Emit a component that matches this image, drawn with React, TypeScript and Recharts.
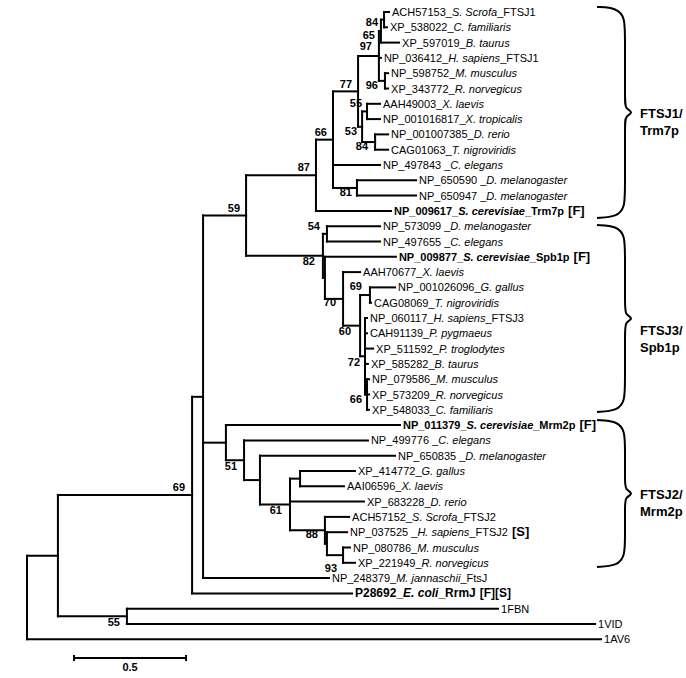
import React from 'react';
import { ComposedChart, XAxis, YAxis, ReferenceLine, Scatter } from 'recharts';

// ---------- DATA ----------
// leaves, top to bottom (row index = position in these arrays)
const leafAccessions = [
  'ACH57153_', 'XP_538022_', 'XP_597019_', 'NP_036412_', 'NP_598752_', 'XP_343772_', 'AAH49003_',
  'NP_001016817_', 'NP_001007385_', 'CAG01063_', 'NP_497843 _', 'NP_650590 _', 'NP_650947 _', 'NP_009617_',
  'NP_573099 _', 'NP_497655 _', 'NP_009877_', 'AAH70677_', 'NP_001026096_', 'CAG08069_', 'NP_060117_',
  'CAH91139_', 'XP_511592_', 'XP_585282_', 'NP_079586_', 'XP_573209_', 'XP_548033_', 'NP_011379_',
  'NP_499776 _', 'NP_650835 _', 'XP_414772_', 'AAI06596_', 'XP_683228_', 'ACH57152_', 'NP_037525 _',
  'NP_080786_', 'XP_221949_', 'NP_248379_', 'P28692_', '1FBN', '1VID', '1AV6',
];
const leafSpecies = [
  'S. Scrofa', 'C. familiaris', 'B. taurus', 'H. sapiens', 'M. musculus', 'R. norvegicus', 'X. laevis',
  'X. tropicalis', 'D. rerio', 'T. nigroviridis', 'C. elegans', 'D. melanogaster', 'D. melanogaster', 'S. cerevisiae',
  'D. melanogaster', 'C. elegans', 'S. cerevisiae', 'X. laevis', 'G. gallus', 'T. nigroviridis', 'H. sapiens',
  'P. pygmaeus', 'P. troglodytes', 'B. taurus', 'M. musculus', 'R. norvegicus', 'C. familiaris', 'S. cerevisiae',
  'C. elegans', 'D. melanogaster', 'G. gallus', 'X. laevis', 'D. rerio', 'S. Scrofa', 'H. sapiens',
  'M. musculus', 'R. norvegicus', 'M. jannaschii', 'E. coli', '', '', '',
];
const leafSuffixes = [
  '_FTSJ1', '', '', '_FTSJ1', '', '', '', '', '', '', '', '', '', '_Trm7p',
  '', '', '_Spb1p', '', '', '', '_FTSJ3', '', '', '', '', '', '', '_Mrm2p',
  '', '', '', '', '', '_FTSJ2', '_FTSJ2', '', '', '_FtsJ', '_RrmJ', '', '', '',
];
const leafTags = [
  '', '', '', '', '', '', '', '', '', '', '', '', '', '[F]',
  '', '', '[F]', '', '', '', '', '', '', '', '', '', '', '[F]',
  '', '', '', '', '', '', '[S]', '', '', '', '[F][S]', '', '', '',
];
const boldLeaves = [13, 16, 27, 38];
const largeLeaves = [38];
// distance of each leaf tip from the root
const leafDistances = [
  1.616, 1.607, 1.661, 1.580, 1.612, 1.612, 1.576, 1.576, 1.612, 1.612, 1.576, 1.737, 1.737, 1.625,
  1.576, 1.576, 1.647, 1.487, 1.643, 1.536, 1.518, 1.518, 1.545, 1.522, 1.527, 1.527, 1.527, 1.665,
  1.522, 1.643, 1.464, 1.415, 1.504, 1.438, 1.429, 1.442, 1.464, 1.348, 1.451, 2.103, 2.536, 2.563,
];
const leafParents = [
  'n84', 'n84', 'n65', 'n97', 'n96', 'n96', 'n55', 'n55', 'n84b', 'n84b', 'n66', 'n81', 'n81', 'n87',
  'n54', 'n54', 'X', 'n70', 'n69b', 'n69b', 'n72', 'n72', 'n72', 'n72', 'n66b', 'n66b', 'n66b', 'M',
  'n51', 'n61pre', 'Z', 'Z', 'n61', 'n88', 'W', 'n93', 'n93', 'B', 'n69', 'n55b', 'n55b', 'root',
];

// internal nodes
const nodeNames = [
  'root', 'A', 'n55b', 'n69', 'B', 'n59', 'n87', 'n66', 'n77', 'n97', 'n65', 'n84', 'n96', 'n53', 'n55',
  'n84b', 'n81', 'n82', 'n54', 'X', 'n70', 'n60', 'n69b', 'n72', 'n66b', 'M', 'n51', 'n61pre', 'n61', 'Z',
  'n88', 'W', 'n93',
];
const nodeParents = [
  null, 'root', 'A', 'A', 'n69', 'B', 'n59', 'n87', 'n66', 'n77', 'n97', 'n65', 'n97', 'n77', 'n53',
  'n53', 'n66', 'n59', 'n82', 'n82', 'X', 'n70', 'n60', 'n60', 'n72', 'B', 'M', 'n51', 'n61pre', 'n61',
  'n61', 'n88', 'W',
];
const nodeDistances = [
  0, 0.138, 0.446, 0.737, 0.786, 0.978, 1.290, 1.366, 1.478, 1.571, 1.580, 1.594, 1.598, 1.496, 1.518,
  1.554, 1.473, 1.321, 1.339, 1.330, 1.411, 1.487, 1.531, 1.509, 1.518, 0.888, 0.969, 1.040, 1.174, 1.219,
  1.330, 1.339, 1.411,
];
const nodeSupport = [
  null, null, 55, 69, null, 59, 87, 66, 77, 97, 65, 84, 96, 53, 55,
  84, 81, 82, 54, null, 70, 60, 69, 72, 66, null, 51, null, 61, null,
  88, null, 93,
];

// clades
const cladeLines = [['FTSJ1/', 'Trm7p'], ['FTSJ3/', 'Spb1p'], ['FTSJ2/', 'Mrm2p']];
const cladeTopRows = [-0.33, 13.92, 26.67];
const cladeBottomRows = [13.46, 26.14, 36.27];
const cladeLabelRows = [6.6, 20.8, 31.5];

// scale bar
const scaleBarValue = 0.5;
const scaleBarStart = 0.21;

// ---------- LAYOUT / STYLE ----------
const W = 686;
const H = 678;
const PX_PER_UNIT = 224;
const ROOT_PX = 27;
const ROW_PX = 15.3;
const FIRST_ROW_PX = 12;
const X_DOMAIN = [-ROOT_PX / PX_PER_UNIT, (W - ROOT_PX) / PX_PER_UNIT];
const Y_DOMAIN = [-FIRST_ROW_PX / ROW_PX, (H - FIRST_ROW_PX) / ROW_PX];
const FONT = '"Liberation Sans", Arial, Helvetica, sans-serif';
const ux = (px: number) => (px - ROOT_PX) / PX_PER_UNIT;
const uy = (px: number) => (px - FIRST_ROW_PX) / ROW_PX;
const ry = (row: number) => FIRST_ROW_PX + row * ROW_PX;

// support label offsets (px): [dx, baseline dy]
const ABOVE = -4;
const BELOW = 9.5;
const supportOffsets: Record<string, [number, number]> = {
  n55b: [-7, BELOW], n69: [-7, ABOVE], n59: [-6, ABOVE], n87: [-6, ABOVE], n66: [-6, ABOVE],
  n77: [-6, ABOVE + 1], n97: [-7, -5.5], n65: [-6, 8], n84: [-6, 6.5], n96: [-7, 8], n53: [-5, 8],
  n55: [-5, ABOVE], n84b: [-7, 8], n81: [-5, 8], n82: [-8, BELOW], n54: [-7, ABOVE], n70: [-7, 7],
  n60: [-9, BELOW], n69b: [-8, ABOVE - 1], n72: [-5, BELOW], n66b: [-5, 8], n51: [-7, BELOW],
  n61: [-8, BELOW], n88: [-7, 8], n93: [-6, 17],
};

// ---------- TREE GEOMETRY ----------
const nodeIndex: Record<string, number> = {};
nodeNames.forEach((n, i) => (nodeIndex[n] = i));
const distOf = (id: string) => nodeDistances[nodeIndex[id]];

const yCache: Record<string, number> = {};
function childYs(id: string): number[] {
  const ys: number[] = [];
  leafParents.forEach((p, i) => { if (p === id) ys.push(i); });
  nodeParents.forEach((p, i) => { if (p === id) ys.push(nodeY(nodeNames[i])); });
  return ys;
}
function nodeY(id: string): number {
  if (yCache[id] !== undefined) return yCache[id];
  const ys = childYs(id);
  const y = (Math.min(...ys) + Math.max(...ys)) / 2;
  yCache[id] = y;
  return y;
}

type Seg = { x1: number; y1: number; x2: number; y2: number };
const segments: Seg[] = [];
leafParents.forEach((p, i) => {
  segments.push({ x1: distOf(p), y1: i, x2: leafDistances[i], y2: i });
});
nodeNames.forEach((n, i) => {
  const p = nodeParents[i];
  const y = nodeY(n);
  if (p) segments.push({ x1: distOf(p), y1: y, x2: nodeDistances[i], y2: y });
  const ys = childYs(n);
  segments.push({ x1: nodeDistances[i], y1: Math.min(...ys), x2: nodeDistances[i], y2: Math.max(...ys) });
});

const leafPoints = leafAccessions.map((acc, i) => ({
  x: leafDistances[i],
  y: i,
  acc,
  sp: leafSpecies[i],
  suf: leafSuffixes[i],
  tag: leafTags[i],
  bold: boldLeaves.includes(i),
  large: largeLeaves.includes(i),
}));

const supportPoints = nodeNames
  .map((n, i) => ({ x: nodeDistances[i], y: nodeY(n), value: nodeSupport[i], id: n }))
  .filter((d) => d.value !== null);

function braceShape(topRow: number, bottomRow: number) {
  const T = ry(topRow);
  const B = ry(bottomRow);
  const M = (T + B) / 2;
  const L = 597, S = 625, C = 634;
  const pts: [number, number][] = [
    [L, T], [617, T + 1], [S, T + 11], [S, T + 30], [S, M - 12], [S, M - 4], [C, M], [S, M + 4],
    [S, M + 12], [S, B - 30], [S, B - 11], [617, B - 1], [L, B],
  ];
  return pts.map(([px, py]) => ({ x: ux(px), y: uy(py) }));
}

const cladeLabelPoints = cladeLines.map((lines, i) => ({ x: ux(640), y: cladeLabelRows[i], lines }));
const scaleLabelPoint = [{ x: scaleBarStart + scaleBarValue / 2, y: uy(667), text: String(scaleBarValue) }];

// ---------- SHAPES ----------
const LeafLabel = (props: any) => {
  const { cx, cy, payload } = props;
  const fs = payload.large ? 12 : 11;
  return (
    <text x={cx + 3} y={cy + 4} fontFamily={FONT} fontSize={fs} fontWeight={payload.bold ? 'bold' : 'normal'} fill="#000">
      <tspan>{payload.acc}</tspan>
      {payload.sp ? <tspan fontStyle="italic">{payload.sp}</tspan> : null}
      {payload.suf ? <tspan>{payload.suf}</tspan> : null}
      {payload.tag ? (
        <tspan dx={4} fontWeight="bold" fontSize={payload.large ? 12 : 13}>{payload.tag}</tspan>
      ) : null}
    </text>
  );
};

const SupportLabel = (props: any) => {
  const { cx, cy, payload } = props;
  const [dx, dy] = supportOffsets[payload.id] || [-6, ABOVE];
  return (
    <text x={cx + dx} y={cy + dy} textAnchor="end" fontFamily={FONT} fontSize={11} fontWeight="bold" fill="#000">
      {payload.value}
    </text>
  );
};

const CladeLabel = (props: any) => {
  const { cx, cy, payload } = props;
  return (
    <text x={cx} y={cy + 5} fontFamily={FONT} fontSize={13} fontWeight="bold" fill="#000">
      <tspan x={cx}>{payload.lines[0]}</tspan>
      <tspan x={cx} dy={17}>{payload.lines[1]}</tspan>
    </text>
  );
};

const ScaleLabel = (props: any) => {
  const { cx, cy, payload } = props;
  return (
    <text x={cx} y={cy + 4} textAnchor="middle" fontFamily={FONT} fontSize={11} fontWeight="bold" fill="#000">
      {payload.text}
    </text>
  );
};

const NoDot = () => <g />;

export default function App() {
  const barY = uy(658);
  const tick = 3 / ROW_PX;
  return (
    <div style={{ position: 'absolute', left: 0, top: 0, width: W, height: H, background: '#fff' }}>
      <ComposedChart width={W} height={H} margin={{ top: 0, right: 0, bottom: 0, left: 0 }}>
        <XAxis type="number" dataKey="x" domain={X_DOMAIN} allowDataOverflow hide />
        <YAxis type="number" dataKey="y" domain={Y_DOMAIN} allowDataOverflow reversed hide />
        {segments.map((s, i) => (
          <ReferenceLine
            key={'s' + i}
            segment={[{ x: s.x1, y: s.y1 }, { x: s.x2, y: s.y2 }]}
            stroke="#000"
            strokeWidth={2}
            strokeLinecap="square"
            ifOverflow="visible"
          />
        ))}
        {/* scale bar */}
        <ReferenceLine segment={[{ x: scaleBarStart, y: barY }, { x: scaleBarStart + scaleBarValue, y: barY }]} stroke="#000" strokeWidth={2} ifOverflow="visible" />
        <ReferenceLine segment={[{ x: scaleBarStart, y: barY - tick }, { x: scaleBarStart, y: barY + tick }]} stroke="#000" strokeWidth={2} ifOverflow="visible" />
        <ReferenceLine segment={[{ x: scaleBarStart + scaleBarValue, y: barY - tick }, { x: scaleBarStart + scaleBarValue, y: barY + tick }]} stroke="#000" strokeWidth={2} ifOverflow="visible" />
        {cladeTopRows.map((t, i) => (
          <Scatter
            key={'b' + i}
            data={braceShape(t, cladeBottomRows[i])}
            shape={NoDot}
            line={{ stroke: '#000', strokeWidth: 2, fill: 'none' }}
            lineType="joint"
            lineJointType="basis"
            isAnimationActive={false}
          />
        ))}
        <Scatter data={leafPoints} shape={LeafLabel} isAnimationActive={false} />
        <Scatter data={supportPoints} shape={SupportLabel} isAnimationActive={false} />
        <Scatter data={cladeLabelPoints} shape={CladeLabel} isAnimationActive={false} />
        <Scatter data={scaleLabelPoint} shape={ScaleLabel} isAnimationActive={false} />
      </ComposedChart>
    </div>
  );
}
